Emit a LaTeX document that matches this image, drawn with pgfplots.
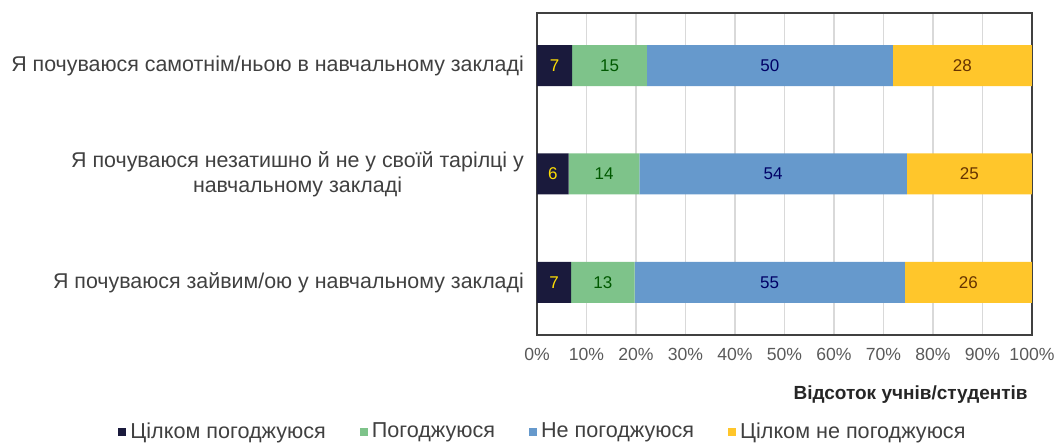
\documentclass[border=0pt]{standalone}
\usepackage{fontspec}
\setmainfont{Liberation Sans}
\usepackage{pgfplots}
\usepackage{pgfplotstable}
\pgfplotsset{compat=1.18}

\definecolor{fullyagree}{HTML}{1A1A3C}
\definecolor{agree}{HTML}{7EC38A}
\definecolor{disagree}{HTML}{6699CC}
\definecolor{fullydis}{HTML}{FFC62B}
\definecolor{gridgray}{HTML}{D9D9D9}
\definecolor{framegray}{HTML}{404040}
\definecolor{textgray}{HTML}{404040}
\definecolor{tickgray}{HTML}{595959}

% y: 0 = bottom row, 2 = top row; shares in percent
\pgfplotstableread{
y a b c d
0 6.9 12.8 54.6 25.7
1 6.4 14.3 54.0 25.3
2 7.1 15.1 49.7 28.1
}\survey

\begin{document}
\begin{tikzpicture}
\begin{axis}[
    xbar stacked,
    scale only axis,
    width=247.5pt, height=161pt,
    bar width=20.5pt,
    xmin=0, xmax=100,
    ymin=-0.484, ymax=2.484,
    xtick={0,10,...,100},
    xticklabel={\pgfmathprintnumber{\tick}\%},
    ytick={0,1,2},
    yticklabels={
        {Я почуваюся зайвим/ою у навчальному закладі},
        {Я почуваюся незатишно й не у своїй тарілці у\\навчальному закладі},
        {Я почуваюся самотнім/ньою в навчальному закладі}},
    major tick length=0pt,
    xmajorgrids,
    grid style={draw=gridgray, line width=0.6pt},
    axis line style={draw=framegray, line width=0.9pt},
    /pgf/number format/assume math mode=true,
    tick label style={font=\fontsize{8.8}{10}\selectfont, text=tickgray},
    xticklabel style={yshift=-3pt},
    yticklabel style={align=center, font=\fontsize{10.7}{12.5}\selectfont,
        text=textgray, xshift=-3pt},
    xlabel={Відсоток учнів/студентів},
    xlabel style={at={(rel axis cs:0.992,0)}, anchor=base east, inner sep=0pt,
        yshift=-32.5pt, font=\bfseries\fontsize{9.5}{11}\selectfont, text=black!85},
    legend columns=4,
    legend style={at={(rel axis cs:0,0)}, anchor=center, xshift=3.5pt, yshift=-48.5pt,
        draw=none, fill=none, font=\fontsize{10.8}{12}\selectfont, text=textgray,
        /tikz/every even column/.append style={column sep=15pt}},
    legend image code/.code={\fill[#1] (0pt,-2pt) rectangle (4pt,2pt);},
    point meta=explicit symbolic,
    nodes near coords={\pgfmathprintnumber[fixed, precision=0]{\pgfplotspointmeta}},
    every node near coord/.append style={anchor=center,
        font=\fontsize{8.5}{9}\selectfont},
]
\addplot[fill=fullyagree, draw=none,
    every node near coord/.append style={text=yellow!80!orange}]
    table[x=a, y=y, meta=a] {\survey};
\addplot[fill=agree, draw=none,
    every node near coord/.append style={text=green!35!black}]
    table[x=b, y=y, meta=b] {\survey};
\addplot[fill=disagree, draw=none,
    every node near coord/.append style={text=blue!40!black}]
    table[x=c, y=y, meta=c] {\survey};
\addplot[fill=fullydis, draw=none,
    every node near coord/.append style={text=orange!40!black}]
    table[x=d, y=y, meta=d] {\survey};
\legend{Цілком погоджуюся, Погоджуюся, Не погоджуюся, Цілком не погоджуюся}
\end{axis}
\pgfresetboundingbox
\path (current axis.south west) ++(-268.5pt,-54pt) rectangle ++(531pt,221.5pt);
\end{tikzpicture}
\end{document}
